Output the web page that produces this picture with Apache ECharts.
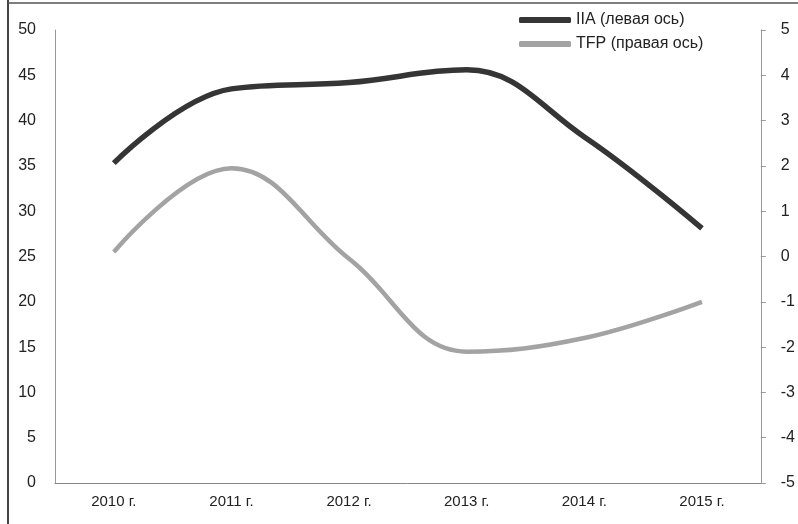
<!DOCTYPE html>
<html>
<head>
<meta charset="utf-8">
<script src="https://cdn.jsdelivr.net/npm/echarts@6/dist/echarts.min.js"></script>
<style>
html,body{margin:0;padding:0;background:#fff;}
#chart{width:798px;height:524px;}
</style>
</head>
<body>
<div id="chart"></div>
<script>
const categories = ['2010 г.', '2011 г.', '2012 г.', '2013 г.', '2014 г.', '2015 г.'];
const iiaValues = [35.3, 43.5, 44.2, 45.6, 38.2, 28.1];
const tfpValues = [0.1, 1.95, -0.05, -2.1, -1.8, -1.0];
const seriesNames = ['IIA (левая ось)', 'TFP (правая ось)'];

const font = '"Liberation Sans", Arial, sans-serif';
const chart = echarts.init(document.getElementById('chart'));
chart.setOption({
  backgroundColor: '#fff',
  animation: false,
  graphic: [
    { type: 'line', shape: { x1: 8, y1: 0, x2: 8, y2: 524 }, style: { stroke: '#444', lineWidth: 2 } },
    { type: 'line', shape: { x1: 8, y1: 3, x2: 798, y2: 3 }, style: { stroke: '#555', lineWidth: 1.5 } }
  ],
  grid: { left: 55, right: 33, top: 30, bottom: 41 },
  legend: {
    orient: 'vertical',
    left: 514, top: 7,
    itemWidth: 52, itemHeight: 6, itemGap: 8,
    textStyle: { fontFamily: font, fontSize: 16, color: '#222' },
    data: [
      { name: seriesNames[0], icon: 'roundRect' },
      { name: seriesNames[1], icon: 'roundRect' }
    ]
  },
  xAxis: {
    type: 'category',
    data: categories,
    boundaryGap: true,
    axisLine: { lineStyle: { color: '#888', width: 1 } },
    axisTick: { show: false },
    axisLabel: { fontFamily: font, fontSize: 15, color: '#222', margin: 11 }
  },
  yAxis: [
    {
      type: 'value', min: 0, max: 50, interval: 5,
      axisLine: { show: true, lineStyle: { color: '#999', width: 1 } },
      axisTick: { show: false },
      splitLine: { show: false },
      axisLabel: { fontFamily: font, fontSize: 16, color: '#222', margin: 19 }
    },
    {
      type: 'value', min: -5, max: 5, interval: 1, position: 'right',
      axisLine: { show: true, lineStyle: { color: '#999', width: 1 } },
      axisTick: { show: true, length: 5, lineStyle: { color: '#999' } },
      splitLine: { show: false },
      axisLabel: { fontFamily: font, fontSize: 16, color: '#222', margin: 20 }
    }
  ],
  series: [
    {
      name: seriesNames[0], type: 'line', yAxisIndex: 0,
      data: iiaValues, smooth: 0.4, symbol: 'none',
      lineStyle: { color: '#353535', width: 5.5 },
      itemStyle: { color: '#353535' }
    },
    {
      name: seriesNames[1], type: 'line', yAxisIndex: 1,
      data: tfpValues, smooth: 0.4, symbol: 'none',
      lineStyle: { color: '#a3a3a3', width: 4.5 },
      itemStyle: { color: '#a3a3a3' }
    }
  ]
});
</script>
</body>
</html>
